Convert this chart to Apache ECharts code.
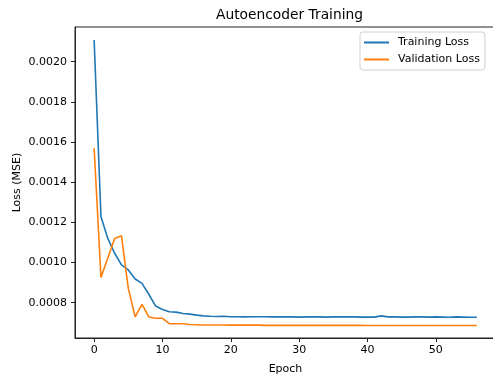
<!DOCTYPE html>
<html>
<head>
<meta charset="utf-8">
<script src="https://cdn.jsdelivr.net/npm/echarts@6/dist/echarts.min.js"></script>
<style>
  html, body { margin: 0; padding: 0; background: #fff; }
  #chart { width: 493px; height: 375px; }
</style>
</head>
<body>
<div id="chart"></div>
<script>
const trainLoss = [
  0.002108, 0.001228, 0.001120, 0.001046, 0.000988, 0.000963, 0.000918, 0.000896,
  0.000842, 0.000783, 0.000766, 0.000755, 0.000753, 0.000746, 0.000743, 0.000738,
  0.000734, 0.000732, 0.000731, 0.000732, 0.000730, 0.000730, 0.000729, 0.000730,
  0.000730, 0.000730, 0.000729, 0.000730, 0.000729, 0.000729, 0.000728, 0.000729,
  0.000729, 0.000729, 0.000728, 0.000729, 0.000729, 0.000729, 0.000729, 0.000728,
  0.000728, 0.000728, 0.000734, 0.000729, 0.000729, 0.000728, 0.000728, 0.000729,
  0.000729, 0.000728, 0.000729, 0.000728, 0.000727, 0.000729, 0.000728, 0.000727,
  0.000727
]
const valLoss = [
  0.001569, 0.000926, 0.001022, 0.001120, 0.001133, 0.000871, 0.000729, 0.000792,
  0.000729, 0.000722, 0.000722, 0.000695, 0.000695, 0.000695, 0.000691, 0.000690,
  0.000689, 0.000689, 0.000689, 0.000689, 0.000688, 0.000688, 0.000688, 0.000688,
  0.000688, 0.000687, 0.000687, 0.000687, 0.000687, 0.000687, 0.000687, 0.000687,
  0.000687, 0.000687, 0.000687, 0.000687, 0.000687, 0.000687, 0.000687, 0.000687,
  0.000686, 0.000686, 0.000686, 0.000686, 0.000686, 0.000686, 0.000686, 0.000686,
  0.000686, 0.000686, 0.000686, 0.000686, 0.000686, 0.000686, 0.000686, 0.000686,
  0.000686
]
const xTicks = [0, 10, 20, 30, 40, 50]
const yTicks = [0.0008, 0.0010, 0.0012, 0.0014, 0.0016, 0.0018, 0.0020]

const font = 'DejaVu Sans'
const chart = echarts.init(document.getElementById('chart'), null, { renderer: 'canvas' })

const toPairs = (arr) => arr.map((v, i) => [i, v])

const axisCommon = {
  axisLine: { show: true, onZero: false, lineStyle: { color: '#222', width: 1 } },
  axisTick: { show: true, inside: false, length: 4, lineStyle: { color: '#222', width: 1 } },
  splitLine: { show: false },
  nameMoveOverlap: false,
  nameTextStyle: { color: '#000', fontFamily: font, fontSize: 11 }
}

chart.setOption({
  animation: false,
  backgroundColor: '#fff',
  title: {
    text: 'Autoencoder Training',
    left: 211,
    top: 3,
    textStyle: { fontFamily: font, fontSize: 13.8, fontWeight: 'normal', color: '#000' }
  },
  // full frame like matplotlib spines; right edge runs past the picture
  grid: {
    left: 75, top: 27, width: 421, height: 311, containLabel: false,
    outerBoundsMode: 'none',
    show: true, borderColor: '#222', borderWidth: 1, backgroundColor: 'transparent'
  },
  legend: {
    orient: 'vertical',
    left: 360,
    top: 32,
    padding: [5, 5, 5, 4],
    itemGap: 6,
    itemWidth: 25,
    itemHeight: 2,
    icon: 'rect',
    borderColor: '#d0d0d0',
    borderWidth: 1,
    borderRadius: 3,
    backgroundColor: '#fff',
    textStyle: { fontFamily: font, fontSize: 11, color: '#000', padding: [0, 0, 0, 4] },
    data: ['Training Loss', 'Validation Loss']
  },
  xAxis: {
    type: 'value',
    min: -2.8,
    max: 58.8,
    name: 'Epoch',
    nameLocation: 'middle',
    nameGap: 26,
    ...axisCommon,
    axisTick: { ...axisCommon.axisTick, customValues: xTicks },
    axisLabel: {
      customValues: xTicks,
      margin: 7,
      fontFamily: font,
      fontSize: 11,
      color: '#000'
    }
  },
  yAxis: {
    type: 'value',
    min: 0.000624,
    max: 0.0021728,
    name: 'Loss (MSE)',
    nameLocation: 'middle',
    nameGap: 52,
    ...axisCommon,
    axisTick: { ...axisCommon.axisTick, customValues: yTicks },
    axisLabel: {
      customValues: yTicks,
      margin: 8,
      fontFamily: font,
      fontSize: 11,
      color: '#000',
      formatter: (v) => v.toFixed(4)
    }
  },
  series: [
    {
      name: 'Training Loss',
      type: 'line',
      data: toPairs(trainLoss),
      showSymbol: false,
      color: '#1f77b4',
      lineStyle: { width: 1.6, color: '#1f77b4' }
    },
    {
      name: 'Validation Loss',
      type: 'line',
      data: toPairs(valLoss),
      showSymbol: false,
      color: '#ff7f0e',
      lineStyle: { width: 1.6, color: '#ff7f0e' }
    }
  ]
})
</script>
</body>
</html>
